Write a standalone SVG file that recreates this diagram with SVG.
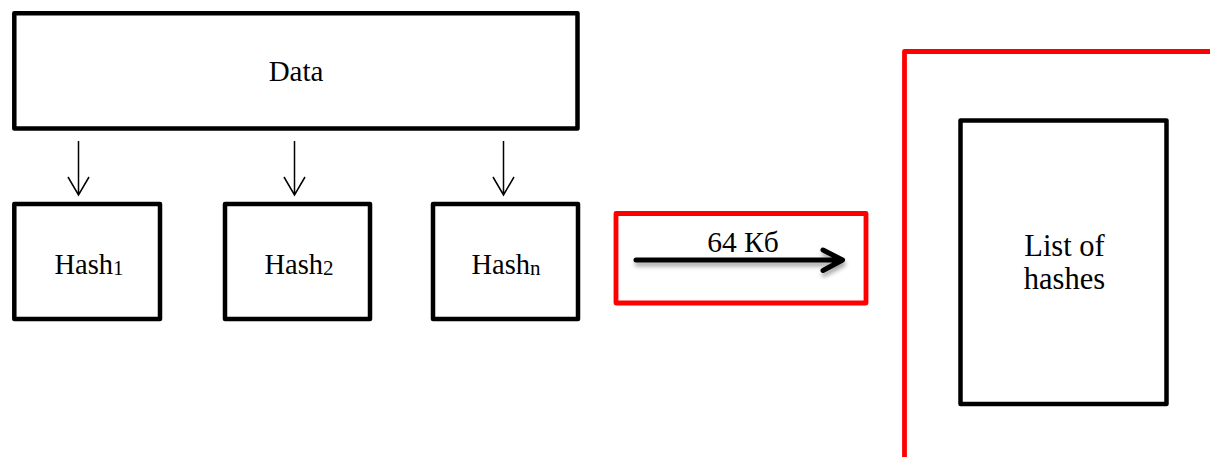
<svg xmlns="http://www.w3.org/2000/svg" width="1210" height="457" viewBox="0 0 1210 457">
  <style>
    .box { fill: #ffffff; stroke: #000000; stroke-width: 4.5; stroke-linejoin: round; }
    .red { fill: none; stroke: #ff0000; stroke-width: 4.8; stroke-linejoin: round; }
    .lbl { font-family: "Liberation Serif", "Times New Roman", serif; fill: #000000; text-anchor: middle; }
    .thin { fill: none; stroke: #000000; stroke-width: 1.5; }
    .thick { fill: none; stroke: #000000; stroke-width: 5; stroke-linecap: round; stroke-linejoin: round; }
  </style>
  <defs>
    <filter id="shadow" x="-10%" y="-100%" width="120%" height="300%">
      <feDropShadow dx="1" dy="4" stdDeviation="2" flood-color="#000000" flood-opacity="0.35"/>
    </filter>
  </defs>
  <rect width="1210" height="457" fill="#ffffff"/>

  <g id="data">
    <rect class="box" x="14.3" y="13.3" width="563.2" height="115.2"/>
    <text class="lbl" x="296" y="81" font-size="29">Data</text>
  </g>

  <g id="hash1">
    <rect class="box" x="14.3" y="204" width="145.7" height="115"/>
    <text class="lbl" x="89" y="274" font-size="28.5">Hash<tspan font-size="21" dy="1">1</tspan></text>
  </g>
  <g id="hash2">
    <rect class="box" x="225" y="204" width="145" height="115"/>
    <text class="lbl" x="299" y="274" font-size="28.5">Hash<tspan font-size="21" dy="1">2</tspan></text>
  </g>
  <g id="hashn">
    <rect class="box" x="433" y="204" width="145" height="115"/>
    <text class="lbl" x="506" y="274" font-size="28.5">Hash<tspan font-size="21" dy="1">n</tspan></text>
  </g>

  <g id="transfer">
    <rect class="red" x="616" y="213.5" width="250" height="89.5"/>
    <text class="lbl" x="743" y="252" font-size="29.5">64 Кб</text>
  </g>

  <g id="frame">
    <rect class="red" x="904.5" y="51.5" width="320" height="409"/>
  </g>

  <g id="list">
    <rect class="box" x="960.5" y="120.5" width="206" height="283.5"/>
    <text class="lbl" x="1064.5" y="256" font-size="30.5">List of</text>
    <text class="lbl" x="1064.5" y="289" font-size="30.5">hashes</text>
  </g>

  <g id="connectors">
    <path class="thin" d="M78.5 141 V195 M68 177 L78.5 195 L89 177"/>
    <path class="thin" d="M294.5 141 V195 M284 177 L294.5 195 L305 177"/>
    <path class="thin" d="M503.5 141 V195 M493 177 L503.5 195 L514 177"/>
    <g filter="url(#shadow)">
      <path class="thick" d="M636 260 H842 M823 250 L842.5 260 L823 270.5"/>
    </g>
  </g>
</svg>
